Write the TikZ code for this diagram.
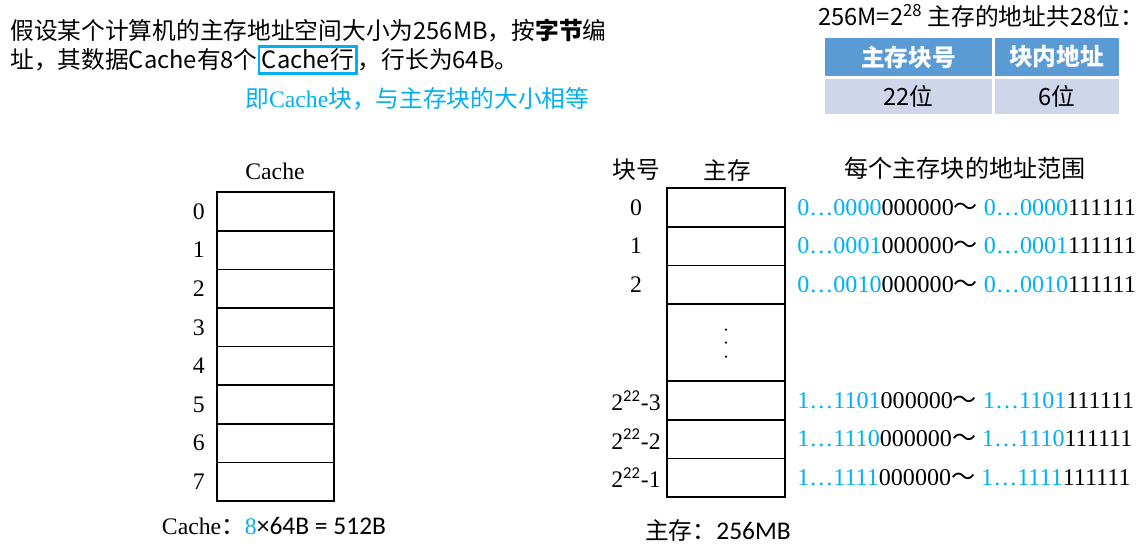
\documentclass[tikz,border=0pt]{standalone}
\usepackage{fontspec}
\setmainfont{Liberation Serif}
\setsansfont{Carlito}
\newfontfamily\cjk{Noto Sans CJK SC}
\usetikzlibrary{positioning}
\definecolor{hlblue}{RGB}{0,176,240}
\definecolor{headblue}{RGB}{91,155,213}
\definecolor{rowblue}{RGB}{207,213,234}
\newcommand{\zh}[1]{{\cjk #1}}
\newcommand{\blockrange}[2]{\textcolor{hlblue}{#1…#2}000000\zh{～} \textcolor{hlblue}{#1…#2}111111}
\tikzset{
	cell/.style={draw,line width=0.85pt,minimum width=2.34cm,minimum height=0.772cm,inner sep=0pt,outer sep=0pt},
	txt/.style={font=\fontsize{13.5}{15}\selectfont,inner sep=0pt},
	rng/.style={font=\fontsize{13.7}{16}\selectfont,inner sep=0pt},
	top/.style={font=\cjk\fontsize{13.5}{16}\selectfont,inner sep=0pt},
	thead/.style={fill=headblue,text=white,font=\cjk\bfseries\fontsize{13.5}{16}\selectfont,minimum height=0.76cm,inner sep=0pt},
	tbody/.style={fill=rowblue,font=\cjk\fontsize{13.5}{16}\selectfont,minimum height=0.7cm,inner sep=0pt}
}
\begin{document}
\begin{tikzpicture}[x=0.02cm,y=-0.02cm]
	\useasboundingbox (0,0) rectangle (1145,548);
	\node(q1) [top,anchor=west] at (10,31) {假设某个计算机的主存地址空间大小为256MB，按{\bfseries 字节}编};
	\node(q2) [top,anchor=west] at (10,60) {址，其数据Cache有8个};
	\node(hl) [top,draw=hlblue,line width=1.4pt,inner sep=1.5pt,right=0pt of q2] {Cache行};
	\node(q3) [top,right=0pt of hl] {，行长为64B。};
	\node(note) [top,text=hlblue,anchor=west] at (245,99) {即{\rmfamily Cache}块，与主存块的大小相等};
	\node(bits) [top] at (981,16) {256M=2\textsuperscript{28} 主存的地址共28位：};
	\node(th1) [thead,minimum width=3.34cm] at (908.5,57) {主存块号};
	\node(th2) [thead,minimum width=2.48cm,right=0.04cm of th1] {块内地址};
	\node(td1) [tbody,minimum width=3.34cm,below=0.04cm of th1] {22位};
	\node(td2) [tbody,minimum width=2.48cm,below=0.04cm of th2] {6位};
	\node(ctitle) [txt] at (275,171) {Cache};
	\node(c0) [cell] at (275.5,211.5) {};
	\node(c1) [cell,below=0pt of c0] {};
	\node(c2) [cell,below=0pt of c1] {};
	\node(c3) [cell,below=0pt of c2] {};
	\node(c4) [cell,below=0pt of c3] {};
	\node(c5) [cell,below=0pt of c4] {};
	\node(c6) [cell,below=0pt of c5] {};
	\node(c7) [cell,below=0pt of c6] {};
	\node(l0) [txt,left=0.24cm of c0] {0};
	\node(l1) [txt,left=0.24cm of c1] {1};
	\node(l2) [txt,left=0.24cm of c2] {2};
	\node(l3) [txt,left=0.24cm of c3] {3};
	\node(l4) [txt,left=0.24cm of c4] {4};
	\node(l5) [txt,left=0.24cm of c5] {5};
	\node(l6) [txt,left=0.24cm of c6] {6};
	\node(l7) [txt,left=0.24cm of c7] {7};
	\node(csize) [txt] at (274,526) {Cache\zh{：}\textcolor{hlblue}{8}{\sffamily\fontsize{14.5}{16}\selectfont ×64B = 512B}};
	\node(hnum) [txt] at (636,170) {\zh{块号}};
	\node(hmem) [txt] at (727,170) {\zh{主存}};
	\node(hrng) [txt,font=\cjk\fontsize{13.7}{16}\selectfont] at (965,168) {每个主存块的地址范围};
	\node(m0) [cell,minimum width=2.36cm] at (726,207.5) {};
	\node(m1) [cell,minimum width=2.36cm,below=0pt of m0] {};
	\node(m2) [cell,minimum width=2.36cm,below=0pt of m1] {};
	\node(mdots) [cell,minimum width=2.36cm,minimum height=1.544cm,below=0pt of m2] {};
	\node(m3) [cell,minimum width=2.36cm,below=0pt of mdots] {};
	\node(m4) [cell,minimum width=2.36cm,below=0pt of m3] {};
	\node(m5) [cell,minimum width=2.36cm,below=0pt of m4] {};
	\fill (mdots.center) ++(0,-13) circle (1.2) ++(0,13) circle (1.2) ++(0,14) circle (1.2);
	\node(k0) [txt] at (m0 -| hnum) {0};
	\node(k1) [txt] at (m1 -| hnum) {1};
	\node(k2) [txt] at (m2 -| hnum) {2};
	\node(k3) [txt] at (m3 -| hnum) {2\textsuperscript{\sffamily 22}-3};
	\node(k4) [txt] at (m4 -| hnum) {2\textsuperscript{\sffamily 22}-2};
	\node(k5) [txt] at (m5 -| hnum) {2\textsuperscript{\sffamily 22}-1};
	\node(a0) [rng,right=0.24cm of m0] {\blockrange{0}{0000}};
	\node(a1) [rng,right=0.24cm of m1] {\blockrange{0}{0001}};
	\node(a2) [rng,right=0.24cm of m2] {\blockrange{0}{0010}};
	\node(a3) [rng,right=0.24cm of m3] {\blockrange{1}{1101}};
	\node(a4) [rng,right=0.24cm of m4] {\blockrange{1}{1110}};
	\node(a5) [rng,right=0.24cm of m5] {\blockrange{1}{1111}};
	\node(msize) [txt] at (718,530) {\zh{主存：}{\sffamily\fontsize{14.5}{16}\selectfont 256MB}};
\end{tikzpicture}
\end{document}
